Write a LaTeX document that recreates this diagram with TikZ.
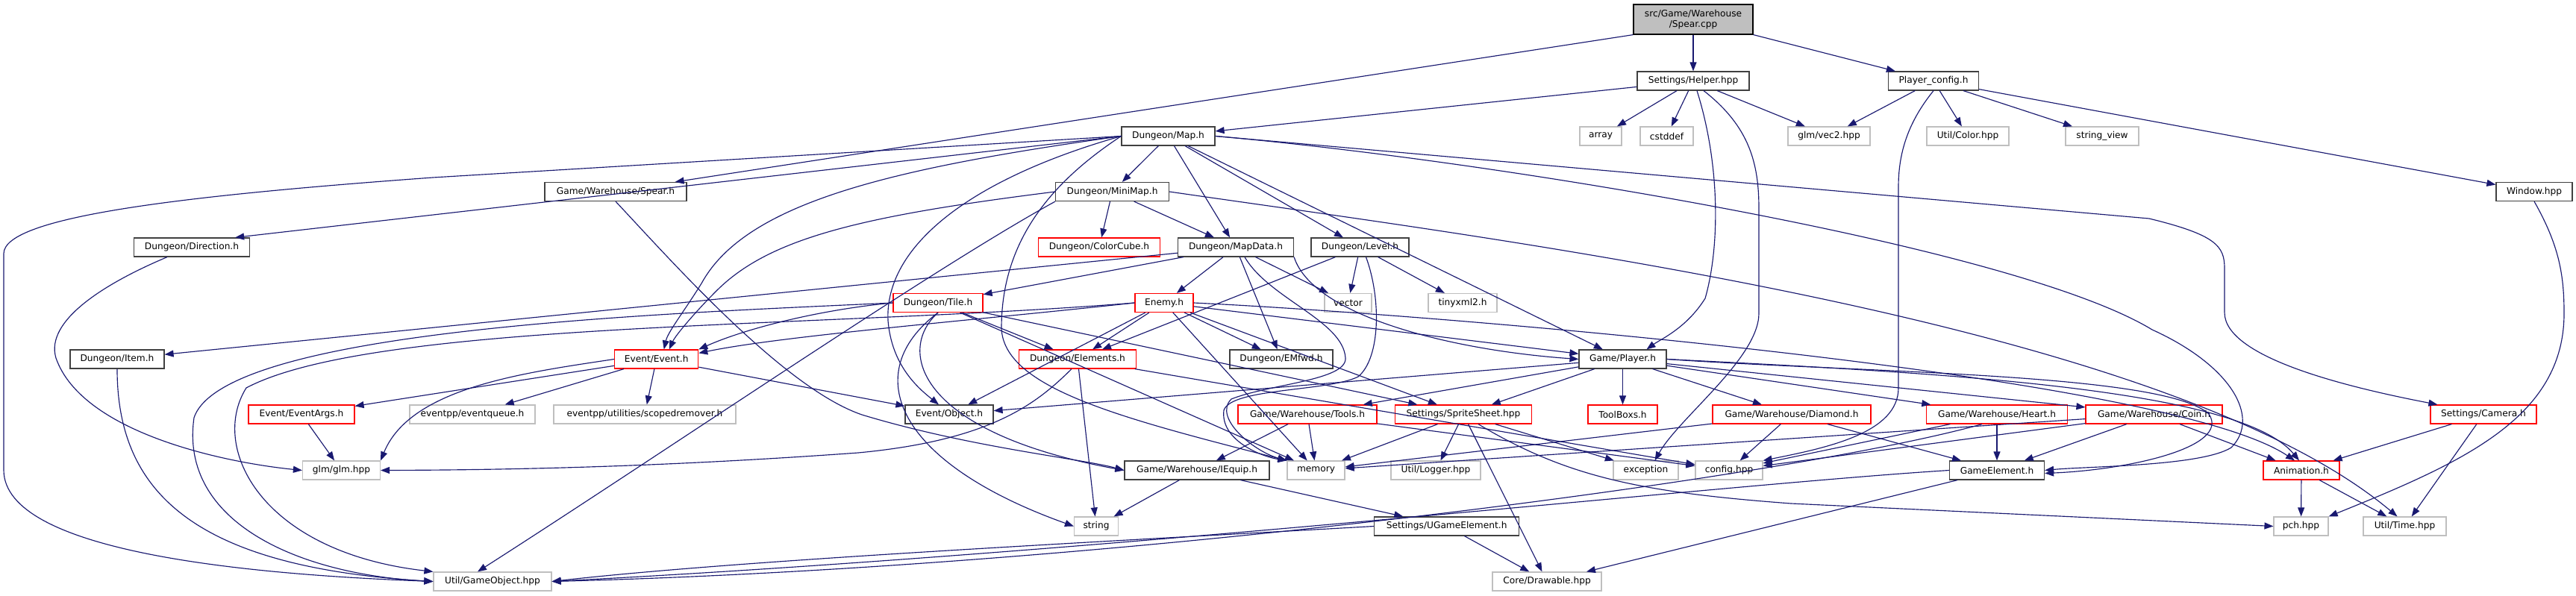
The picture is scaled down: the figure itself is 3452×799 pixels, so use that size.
\documentclass[tikz,border=0pt]{standalone}
\usepackage{fontspec}
\setmainfont{DejaVu Sans}
\usetikzlibrary{arrows.meta}
\definecolor{edgec}{HTML}{191970}
\definecolor{gfour}{HTML}{404040}
\definecolor{gsev}{HTML}{BFBFBF}
\definecolor{redc}{HTML}{FF0000}
\tikzset{
 nb/.style={draw, line width=1.2pt, fill=white, inner sep=0pt, minimum height=25pt, font=\fontsize{12.2}{14.5}\selectfont},
 doc/.style={nb, draw=gfour},
 ext/.style={nb, draw=gsev},
 trc/.style={nb, draw=redc},
 rootn/.style={nb, draw=black, fill=gsev, minimum height=40pt, align=center},
 e/.style={draw=edgec, line width=1.15pt, -{Triangle[length=12pt,width=9pt]}}
}
\begin{document}
\begin{tikzpicture}[x=1pt,y=-1pt]
\useasboundingbox (0,0) rectangle (3452,799);
% row 0
\node[rootn, minimum width=160pt] (root) at (2269,26) {src/Game/Warehouse\\/Spear.cpp};
% row 1
\node[doc, minimum width=150pt] (helper) at (2269,108.5) {Settings/Helper.hpp};
\node[doc, minimum width=121pt] (pconf) at (2591,108.5) {Player\_config.h};
% row 2
\node[doc, minimum width=125pt] (map) at (1565.5,182.5) {Dungeon/Map.h};
\node[ext, minimum width=56pt] (array) at (2145,182.5) {array};
\node[ext, minimum width=71pt] (cstddef) at (2233.5,182.5) {cstddef};
\node[ext, minimum width=110pt] (vec2) at (2451,182.5) {glm/vec2.hpp};
\node[ext, minimum width=110pt] (color) at (2637,182.5) {Util/Color.hpp};
\node[ext, minimum width=98pt] (strview) at (2817,182.5) {string\_view};
% row 3
\node[doc, minimum width=190pt] (spearh) at (825,257) {Game/Warehouse/Spear.h};
\node[doc, minimum width=152pt] (minimap) at (1490.6,257) {Dungeon/MiniMap.h};
\node[doc, minimum width=102pt] (window) at (3396,257) {Window.hpp};
% row 4
\node[doc, minimum width=155pt] (direction) at (257,331.5) {Dungeon/Direction.h};
\node[trc, minimum width=163pt] (colorcube) at (1473,331.5) {Dungeon/ColorCube.h};
\node[doc, minimum width=155pt] (mapdata) at (1656,331.5) {Dungeon/MapData.h};
\node[doc, minimum width=131pt] (level) at (1822.5,331.5) {Dungeon/Level.h};
% row 5
\node[ext, minimum width=63pt] (vector) at (1806.5,406) {vector};
\node[ext, minimum width=92pt] (tinyxml) at (1960,406) {tinyxml2.h};
\node[trc, minimum width=120pt] (tile) at (1257,406) {Dungeon/Tile.h};
\node[trc, minimum width=78pt] (enemy) at (1560,406) {Enemy.h};
% row 6
\node[doc, minimum width=126pt] (item) at (157,481.5) {Dungeon/Item.h};
\node[trc, minimum width=112pt] (event) at (879.7,481.5) {Event/Event.h};
\node[trc, minimum width=157pt] (elements) at (1444,481.5) {Dungeon/Elements.h};
\node[doc, minimum width=138pt] (emfwd) at (1717,481.5) {Dungeon/EMfwd.h};
\node[doc, minimum width=117pt] (player) at (2174.5,481.5) {Game/Player.h};
% row 7
\node[trc, minimum width=142pt] (eventargs) at (404,555.5) {Event/EventArgs.h};
\node[ext, minimum width=168pt] (eventqueue) at (633,555.5) {eventpp/eventqueue.h};
\node[ext, minimum width=244pt] (scoped) at (864,555.5) {eventpp/utilities/scopedremover.h};
\node[doc, minimum width=118pt] (object) at (1272,555.5) {Event/Object.h};
\node[trc, minimum width=186pt] (tools) at (1752,555.5) {Game/Warehouse/Tools.h};
\node[trc, minimum width=183pt] (sprite) at (1961,555.5) {Settings/SpriteSheet.hpp};
\node[trc, minimum width=93pt] (toolboxs) at (2174.5,555.5) {ToolBoxs.h};
\node[trc, minimum width=212pt] (diamond) at (2401,555.5) {Game/Warehouse/Diamond.h};
\node[trc, minimum width=189pt] (heart) at (2676,555.5) {Game/Warehouse/Heart.h};
\node[trc, minimum width=183pt] (coin) at (2886.5,555.5) {Game/Warehouse/Coin.h};
\node[trc, minimum width=142pt] (camera) at (3328,555.5) {Settings/Camera.h};
% row 8
\node[ext, minimum width=104pt] (glm) at (457.5,630.5) {glm/glm.hpp};
\node[doc, minimum width=194pt] (iequip) at (1604,630.5) {Game/Warehouse/IEquip.h};
\node[ext, minimum width=77pt] (memory) at (1763.5,630.5) {memory};
\node[ext, minimum width=120pt] (logger) at (1924,630.5) {Util/Logger.hpp};
\node[ext, minimum width=87pt] (exception) at (2205.5,630.5) {exception};
\node[ext, minimum width=90pt] (config) at (2317,630.5) {config.hpp};
\node[doc, minimum width=127pt] (gameel) at (2676,630.5) {GameElement.h};
\node[trc, minimum width=102pt] (animation) at (3084,630.5) {Animation.h};
% row 9
\node[ext, minimum width=59pt] (string) at (1469,705.5) {string};
\node[doc, minimum width=194pt] (ugame) at (1938.7,705.5) {Settings/UGameElement.h};
\node[ext, minimum width=73pt] (pch) at (3083.5,705.5) {pch.hpp};
\node[ext, minimum width=111pt] (time) at (3222.5,705.5) {Util/Time.hpp};
% row 10
\node[ext, minimum width=158pt] (gameobject) at (660,779.5) {Util/GameObject.hpp};
\node[ext, minimum width=146pt] (drawable) at (2073,779.5) {Core/Drawable.hpp};

% straight edges
\foreach \a/\b in {root/helper, root/pconf,
 helper/map, helper/array, helper/cstddef, helper/vec2,
 pconf/vec2, pconf/color, pconf/strview, pconf/window,
 map/minimap, map/mapdata, map/level, map/player,
 minimap/colorcube, minimap/mapdata,
 mapdata/item, mapdata/tile, mapdata/enemy, mapdata/emfwd, mapdata/vector,
 level/elements, level/vector, level/tinyxml,
 tile/elements, tile/memory, tile/sprite,
 enemy/elements, enemy/object, enemy/emfwd, enemy/player, enemy/sprite, enemy/memory,
 event/eventargs, event/eventqueue, event/scoped, event/object, eventargs/glm,
 elements/string, elements/config,
 player/object, player/tools, player/sprite, player/toolboxs, player/diamond, player/heart, player/coin,
 tools/iequip, tools/memory, tools/config,
 sprite/memory, sprite/logger, sprite/exception, sprite/drawable,
 diamond/config, diamond/gameel, diamond/memory,
 heart/gameel, heart/config,
 coin/gameel, coin/animation, coin/config, coin/memory,
 camera/animation, camera/time, animation/pch, animation/time,
 gameel/drawable, iequip/string, iequip/ugame, ugame/drawable}
 \draw[e] (\a) -- (\b);

% curved / routed edges
\draw[e] (root.south west) -- ([xshift=-16pt]spearh.north east);
\draw[e] (map.west) -- (580,238) .. controls (250,262) and (5,290) .. (5,340) -- (5,630) .. controls (5,740) and (330,770) .. (gameobject.west);
\draw[e] (map.west) -- ([xshift=-20pt]direction.north east);
\draw[e] (map.west) .. controls (1200,225) and (1000,270) .. (940,380) .. controls (915,420) and (895,445) .. ([xshift=10pt]event.north);
\draw[e] (minimap.west) .. controls (1150,290) and (1030,320) .. (960,390) .. controls (930,420) and (905,450) .. ([xshift=17pt]event.north);
\draw[e] (map.west) .. controls (1300,240) and (1185,330) .. (1190,430) .. controls (1195,490) and (1230,520) .. ([xshift=-14pt]object.north);
\draw[e] (map.west) .. controls (1400,250) and (1342,330) .. (1342,440) .. controls (1345,520) and (1500,560) .. (memory.north west);
\draw[e] (map.east) -- (2880,293) .. controls (2970,315) and (2981,330) .. (2981,360) -- (2981,419) .. controls (2981,480) and (3150,520) .. ([xshift=10pt]camera.north west);
\draw[e] (map.east) .. controls (2000,215) and (2700,330) .. (2884,442) .. controls (2990,490) and (3030,560) .. (2990,600) .. controls (2950,625) and (2800,625) .. (gameel.east);
\draw[e] (player.east) .. controls (2500,500) and (2900,500) .. (2960,555) .. controls (2990,600) and (2850,630) .. ([yshift=-4pt]gameel.east);
\draw[e] (player.east) .. controls (2600,500) and (3000,520) .. ([xshift=-3pt]animation.north);
\draw[e] (enemy.east) .. controls (1900,420) and (2900,500) .. ([xshift=-9pt]animation.north);
\draw[e] (window.south) .. controls (3430,330) and (3436,370) .. (3436,420) .. controls (3436,560) and (3300,620) .. (pch.north east);
\draw[e] (pconf.south) .. controls (2560,160) and (2544,200) .. (2544,250) -- (2544,520) .. controls (2544,580) and (2450,600) .. (config.north east);
\draw[e] ([xshift=14pt]helper.south) .. controls (2345,170) and (2357,220) .. (2357,280) -- (2357,420) .. controls (2357,480) and (2250,560) .. ([xshift=12pt]exception.north);
\draw[e] ([xshift=5pt]helper.south) .. controls (2305,220) and (2305,330) .. (2285,400) .. controls (2260,440) and (2225,455) .. ([xshift=32pt]player.north);
\draw[e] (mapdata.south east) .. controls (1760,425) and (1950,470) .. (player.west);
\draw[e] ([xshift=12pt]mapdata.south) .. controls (1700,400) and (1800,430) .. (1803,480) .. controls (1805,510) and (1700,515) .. (1650,535) .. controls (1625,560) and (1680,605) .. (memory.north west);
\draw[e] ([xshift=8pt]level.south) .. controls (1851,400) and (1850,480) .. (1820,505) .. controls (1780,525) and (1650,520) .. (1640,550) .. controls (1635,590) and (1690,612) .. (memory.north west);
\draw[e] ([xshift=-33pt]direction.south) .. controls (140,380) and (60,430) .. (75,480) .. controls (110,580) and (300,620) .. (glm.west);
\draw[e] (item.south) .. controls (157,660) and (260,760) .. (gameobject.west);
\draw[e] (tile.west) .. controls (900,420) and (300,440) .. (260,560) .. controls (240,700) and (400,770) .. (gameobject.west);
\draw[e] (enemy.west) .. controls (1100,440) and (500,430) .. (330,520) .. controls (280,600) and (350,740) .. (gameobject.north west);
\draw[e] (minimap.south west) .. controls (1250,360) and (900,600) .. ([xshift=-20pt]gameobject.north);
\draw[e] (ugame.west) .. controls (1500,725) and (1000,750) .. (gameobject.east);
\draw[e] (gameel.west) .. controls (2300,650) and (1500,740) .. (gameobject.east);
\draw[e] ([xshift=-20pt]heart.south) .. controls (2400,640) and (1500,760) .. (gameobject.east);
\draw[e] ([xshift=20pt]sprite.south) .. controls (2100,640) and (2200,660) .. (2400,675) -- (pch.west);
\draw[e] (minimap.east) .. controls (2000,320) and (2900,430) .. ([xshift=-10pt]time.north);
\draw[e] (tile.west) .. controls (1100,415) and (1000,440) .. (event.north east);
\draw[e] (enemy.west) .. controls (1300,430) and (1050,450) .. ([yshift=-5pt]event.north east);
\draw[e] (spearh.south) .. controls (900,350) and (1050,520) .. (1155,556) .. controls (1300,600) and (1450,615) .. (iequip.west);
\draw[e] (tile.south) .. controls (1200,470) and (1230,580) .. (iequip.west);
\draw[e] (tile.south) .. controls (1150,500) and (1200,620) .. (string.west);
\draw[e] (event.west) .. controls (700,500) and (550,520) .. (glm.north east);
\draw[e] ([xshift=-8pt]elements.south) .. controls (1390,540) and (1330,590) .. (1150,607) .. controls (900,625) and (700,630) .. (glm.east);
\end{tikzpicture}
\end{document}
